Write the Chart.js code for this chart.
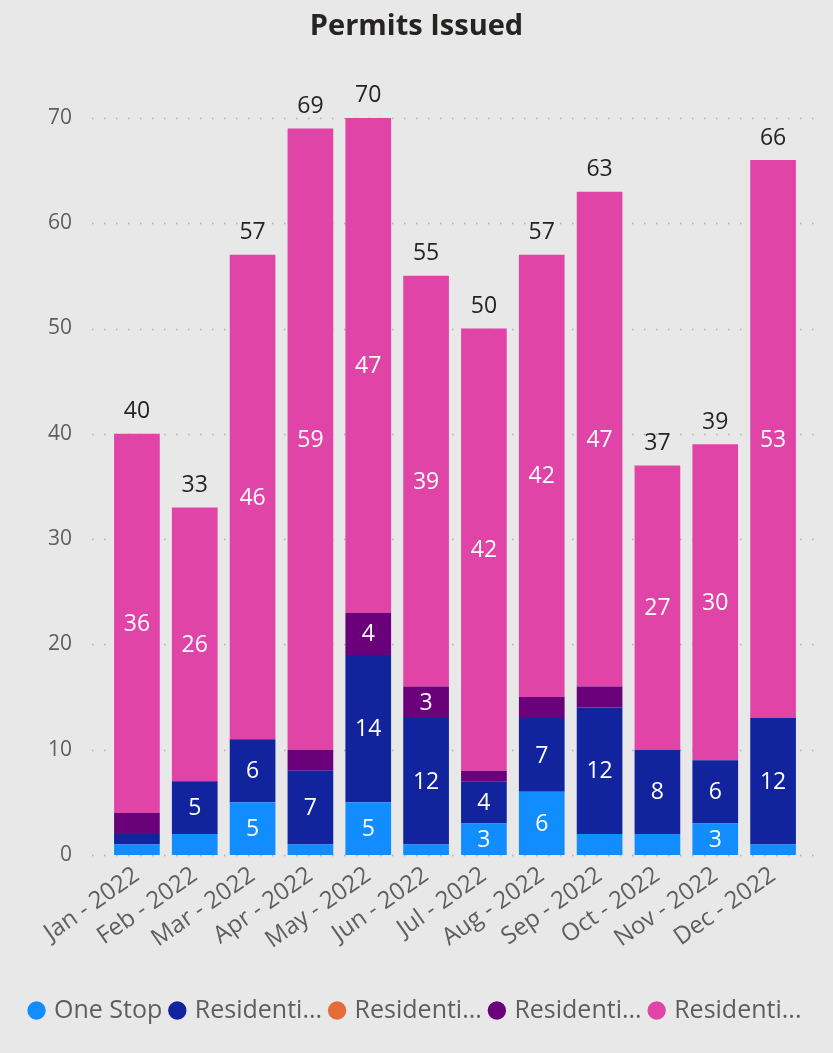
<!DOCTYPE html>
<html>
<head>
<meta charset="utf-8">
<title>Permits Issued</title>
<script src="https://cdn.jsdelivr.net/npm/chart.js@4/dist/chart.umd.min.js"></script>
<style>
  html, body { margin: 0; padding: 0; background: #e8e8e8; }
  #wrap { width: 833px; height: 1053px; }
</style>
</head>
<body>
<div id="wrap"><canvas id="chart" width="833" height="1053"></canvas></div>
<script>
// Months on the category axis
const months = ['Jan - 2022', 'Feb - 2022', 'Mar - 2022', 'Apr - 2022', 'May - 2022', 'Jun - 2022',
                'Jul - 2022', 'Aug - 2022', 'Sep - 2022', 'Oct - 2022', 'Nov - 2022', 'Dec - 2022'];

// Permit counts per permit type, stacked bottom to top
const oneStop      = [1, 2, 5, 1, 5, 1, 3, 6, 2, 2, 3, 1];
const residentialA = [1, 5, 6, 7, 14, 12, 4, 7, 12, 8, 6, 12];
const residentialB = [0, 0, 0, 0, 0, 0, 0, 0, 0, 0, 0, 0];
const residentialC = [2, 0, 0, 2, 4, 3, 1, 2, 2, 0, 0, 0];
const residentialD = [36, 26, 46, 59, 47, 39, 42, 42, 47, 27, 30, 53];

// Legend names as shown
const seriesNames = ['One Stop', 'Residenti...', 'Residenti...', 'Residenti...', 'Residenti...'];

// Value axis ticks
const yTicks = [0, 10, 20, 30, 40, 50, 60, 70];

const seriesData = [oneStop, residentialA, residentialB, residentialC, residentialD];
const seriesColors = ['#118DFF', '#12239E', '#E66C37', '#6B007B', '#E044A7'];

const FONT = "'Open Sans', 'Noto Sans', sans-serif";

// Dotted horizontal guide lines, slightly wider than the plot area
const dottedGrid = {
  id: 'dottedGrid',
  beforeDatasetsDraw(chart) {
    const { ctx, chartArea, scales: { y } } = chart;
    ctx.save();
    ctx.strokeStyle = 'rgba(150,150,150,0.65)';
    ctx.lineWidth = 1.5;
    ctx.setLineDash([1.5, 10.5]);
    y.ticks.forEach(t => {
      const py = Math.round(y.getPixelForValue(t.value)) + 0.5;
      ctx.beginPath();
      ctx.moveTo(chartArea.left - 16, py);
      ctx.lineTo(chartArea.right + 13, py);
      ctx.stroke();
    });
    ctx.restore();
  }
};

// Segment values inside the bars and stack totals above them
const barLabels = {
  id: 'barLabels',
  afterDatasetsDraw(chart) {
    const { ctx, scales: { y } } = chart;
    ctx.save();
    ctx.textAlign = 'center';
    ctx.textBaseline = 'middle';
    ctx.font = `23px ${FONT}`;
    ctx.fillStyle = '#ffffff';
    chart.data.datasets.forEach((ds, di) => {
      const meta = chart.getDatasetMeta(di);
      meta.data.forEach((bar, i) => {
        const v = ds.data[i];
        if (!v) return;
        const h = Math.abs(bar.base - bar.y);
        if (h < 26) return;
        ctx.fillText(String(v), bar.x, (bar.y + bar.base) / 2 + 1);
      });
    });
    ctx.fillStyle = '#252423';
    const meta0 = chart.getDatasetMeta(0);
    months.forEach((m, i) => {
      const total = seriesData.reduce((s, arr) => s + arr[i], 0);
      const x = meta0.data[i].x;
      ctx.fillText(String(total), x, y.getPixelForValue(total) - 22);
    });
    ctx.restore();
  }
};

new Chart(document.getElementById('chart'), {
  type: 'bar',
  data: {
    labels: months,
    datasets: seriesData.map((d, i) => ({
      label: seriesNames[i],
      data: d,
      backgroundColor: seriesColors[i],
      borderWidth: 0,
      categoryPercentage: 1,
      barPercentage: 0.79
    }))
  },
  options: {
    responsive: false,
    animation: false,
    devicePixelRatio: 1,
    layout: { padding: { left: 0, right: 0, top: 0, bottom: 20 } },
    plugins: {
      tooltip: { enabled: false },
      title: {
        display: true,
        text: 'Permits Issued',
        color: '#252423',
        font: { family: FONT, size: 29, weight: '700' },
        padding: { top: 9, bottom: 32 }
      },
      legend: {
        position: 'bottom',
        align: 'center',
        labels: {
          usePointStyle: true,
          pointStyle: 'circle',
          boxWidth: 10,
          boxHeight: 13,
          padding: 10,
          color: '#605E5C',
          font: { family: FONT, size: 25 }
        }
      }
    },
    scales: {
      x: {
        stacked: true,
        grid: { display: false, drawTicks: false },
        border: { display: false },
        ticks: {
          autoSkip: false,
          maxRotation: 35,
          minRotation: 35,
          padding: 6,
          color: '#605E5C',
          font: { family: FONT, size: 24 }
        },
        afterFit(scale) { scale.height = 133; }
      },
      y: {
        stacked: true,
        min: 0,
        max: 74,
        grid: { display: false, drawTicks: false },
        border: { display: false },
        ticks: {
          padding: 36,
          color: '#605E5C',
          font: { family: FONT, size: 21 }
        },
        afterBuildTicks(scale) { scale.ticks = yTicks.map(v => ({ value: v })); },
        afterFit(scale) { scale.width = 108; }
      },
      // empty right-hand gutter
      gutter: {
        type: 'linear',
        position: 'right',
        display: true,
        grid: { display: false, drawTicks: false },
        border: { display: false },
        ticks: { display: false },
        afterFit(scale) { scale.width = 31; }
      }
    }
  },
  plugins: [dottedGrid, barLabels]
});
</script>
</body>
</html>
